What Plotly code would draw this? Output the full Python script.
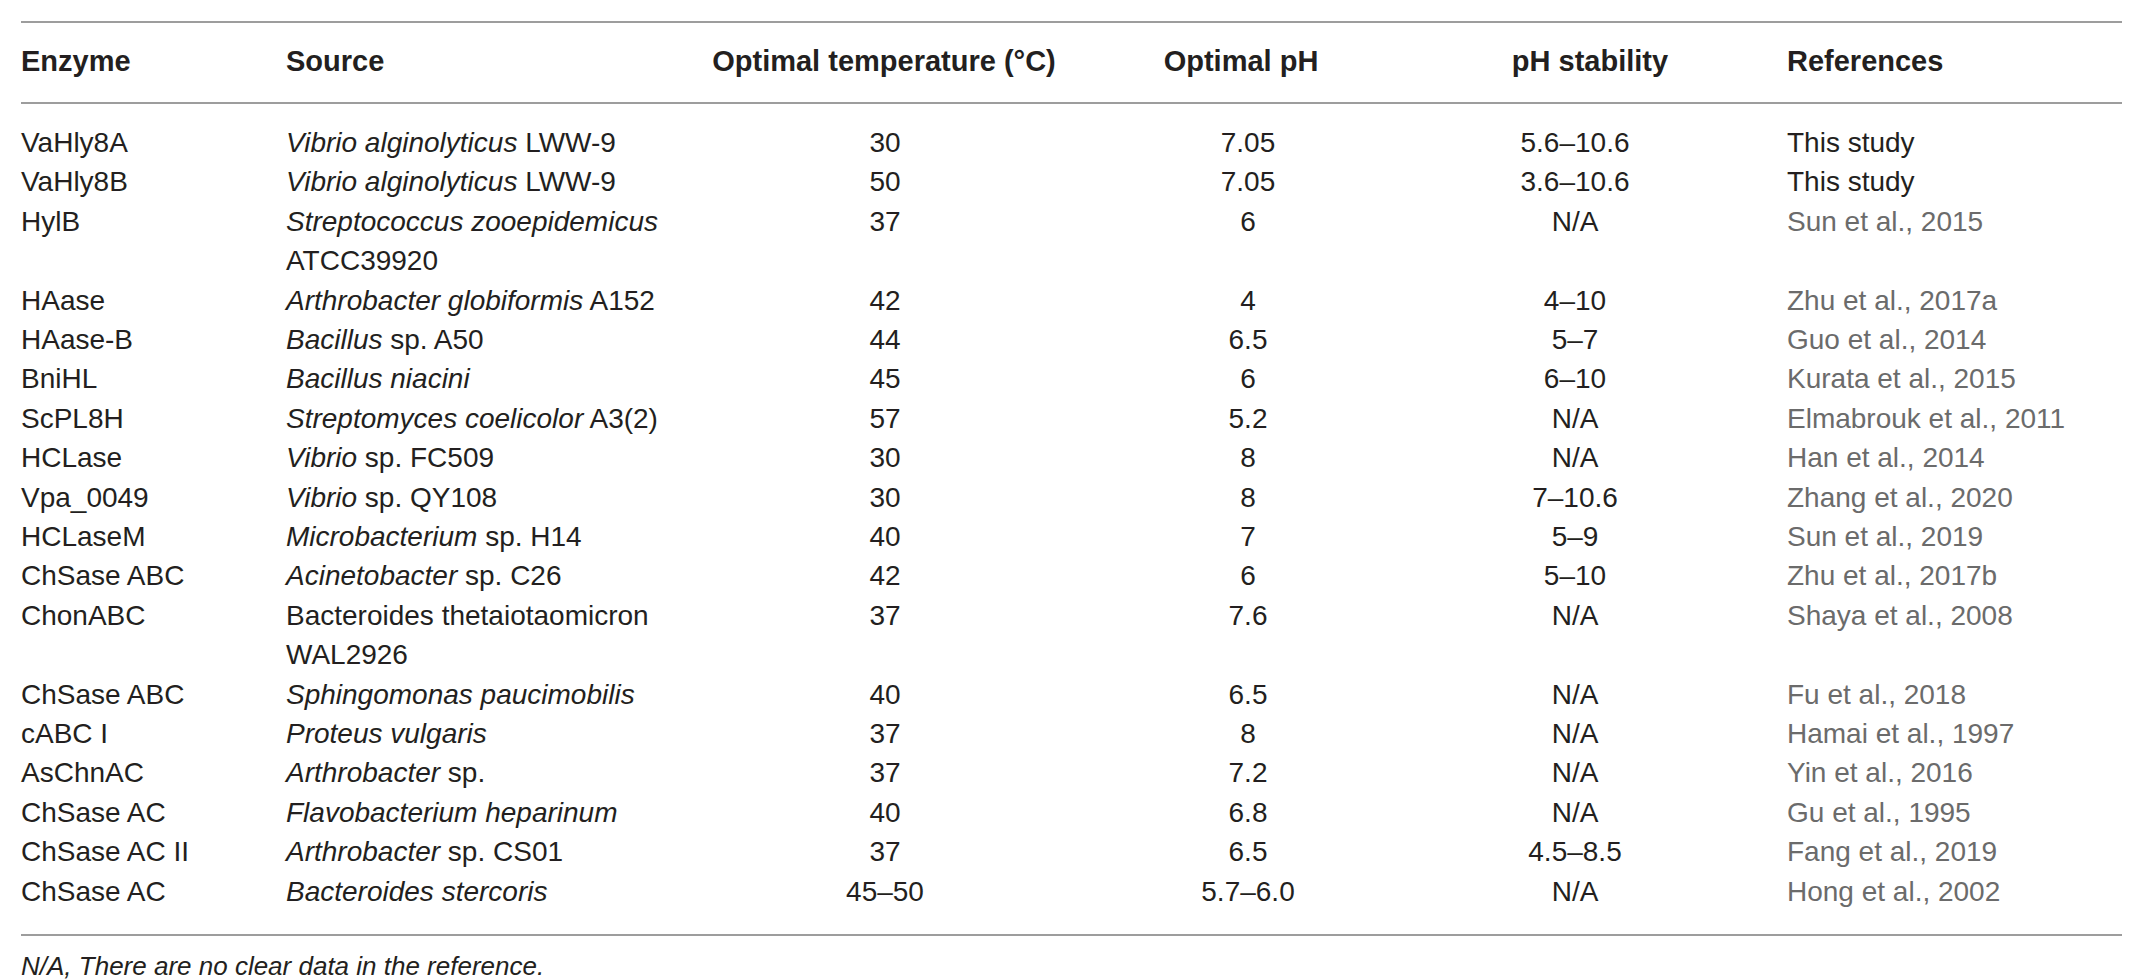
import plotly.graph_objects as go

# table content, one entry per enzyme row
headers = ["Enzyme", "Source", "Optimal temperature (°C)", "Optimal pH", "pH stability", "References"]

enzymes = ["VaHly8A", "VaHly8B", "HylB", "HAase", "HAase-B", "BniHL", "ScPL8H", "HCLase",
           "Vpa_0049", "HCLaseM", "ChSase ABC", "ChonABC", "ChSase ABC", "cABC I", "AsChnAC",
           "ChSase AC", "ChSase AC II", "ChSase AC"]

# "\n" marks where the source wraps to a second line
sources = ["<i>Vibrio alginolyticus</i> LWW-9",
           "<i>Vibrio alginolyticus</i> LWW-9",
           "<i>Streptococcus zooepidemicus</i>\nATCC39920",
           "<i>Arthrobacter globiformis</i> A152",
           "<i>Bacillus</i> sp. A50",
           "<i>Bacillus niacini</i>",
           "<i>Streptomyces coelicolor</i> A3(2)",
           "<i>Vibrio</i> sp. FC509",
           "<i>Vibrio</i> sp. QY108",
           "<i>Microbacterium</i> sp. H14",
           "<i>Acinetobacter</i> sp. C26",
           "Bacteroides thetaiotaomicron\nWAL2926",
           "<i>Sphingomonas paucimobilis</i>",
           "<i>Proteus vulgaris</i>",
           "<i>Arthrobacter</i> sp.",
           "<i>Flavobacterium heparinum</i>",
           "<i>Arthrobacter</i> sp. CS01",
           "<i>Bacteroides stercoris</i>"]

opt_temp = ["30", "50", "37", "42", "44", "45", "57", "30", "30", "40", "42", "37", "40", "37",
            "37", "40", "37", "45–50"]

opt_ph = ["7.05", "7.05", "6", "4", "6.5", "6", "5.2", "8", "8", "7", "6", "7.6", "6.5", "8",
          "7.2", "6.8", "6.5", "5.7–6.0"]

ph_stability = ["5.6–10.6", "3.6–10.6", "N/A", "4–10", "5–7", "6–10", "N/A", "N/A", "7–10.6",
                "5–9", "5–10", "N/A", "N/A", "N/A", "N/A", "N/A", "4.5–8.5", "N/A"]

references = ["This study", "This study", "Sun et al., 2015", "Zhu et al., 2017a",
              "Guo et al., 2014", "Kurata et al., 2015", "Elmabrouk et al., 2011",
              "Han et al., 2014", "Zhang et al., 2020", "Sun et al., 2019", "Zhu et al., 2017b",
              "Shaya et al., 2008", "Fu et al., 2018", "Hamai et al., 1997", "Yin et al., 2016",
              "Gu et al., 1995", "Fang et al., 2019", "Hong et al., 2002"]

footnote = "<i>N/A, There are no clear data in the reference.</i>"

# layout constants (pixels across, text lines down)
W, H = 2130, 980
LINE0_PX, LINE_PX = 137, 39.4
col_x = [13, 278, 877, 1240, 1567, 1779]
head_x = [13, 278, 876, 1233, 1582, 1779]
col_align = ["middle right", "middle right", "middle center", "middle center", "middle center", "middle right"]

BODY = "Liberation Sans, Arial, sans-serif"
INK = "#231f20"
GREY = "#6b6b6b"
RULE = "#9d9d9d"


def line_of(px):
    return (px - LINE0_PX) / LINE_PX


# work out which text line each row starts on (wrapped sources push later rows down)
row_line = []
source_y, source_t = [], []
line = 0
for s in sources:
    row_line.append(line)
    parts = s.split("\n")
    for k, p in enumerate(parts):
        source_t.append(p)
        source_y.append(line + k)
    line += len(parts)

fig = go.Figure()

columns = [enzymes, None, opt_temp, opt_ph, ph_stability, references]
for i, col in enumerate(columns):
    if i == 1:
        ys, ts = source_y, source_t
    else:
        ys, ts = row_line, col
    colors = INK
    if i == 5:
        colors = [INK if r == "This study" else GREY for r in col]
    fig.add_trace(go.Scatter(
        x=[col_x[i]] * len(ts), y=ys, text=ts, mode="text",
        textposition=col_align[i],
        textfont=dict(family=BODY, size=28, color=colors),
        hoverinfo="skip",
    ))

# header row
fig.add_trace(go.Scatter(
    x=head_x, y=[line_of(56)] * len(headers), text=headers, mode="text",
    textposition=col_align,
    textfont=dict(family=BODY, size=29, color=INK, weight="bold"),
    hoverinfo="skip",
))

# footnote
fig.add_trace(go.Scatter(
    x=[13], y=[line_of(960)], text=[footnote], mode="text",
    textposition="middle right",
    textfont=dict(family=BODY, size=26, color=INK),
    hoverinfo="skip",
))

# horizontal rules
for px in [14, 95, 927]:
    fig.add_shape(type="line", xref="x", yref="y", x0=13, x1=2115,
                  y0=line_of(px), y1=line_of(px), line=dict(color=RULE, width=2))

fig.update_layout(
    width=W, height=H,
    margin=dict(l=0, r=0, t=0, b=0),
    paper_bgcolor="white", plot_bgcolor="white",
    showlegend=False,
    xaxis=dict(range=[0, W], visible=False, fixedrange=True),
    yaxis=dict(range=[line_of(H), line_of(0)], visible=False, fixedrange=True),
)

fig.write_html("out.html", config={"displayModeBar": False})
